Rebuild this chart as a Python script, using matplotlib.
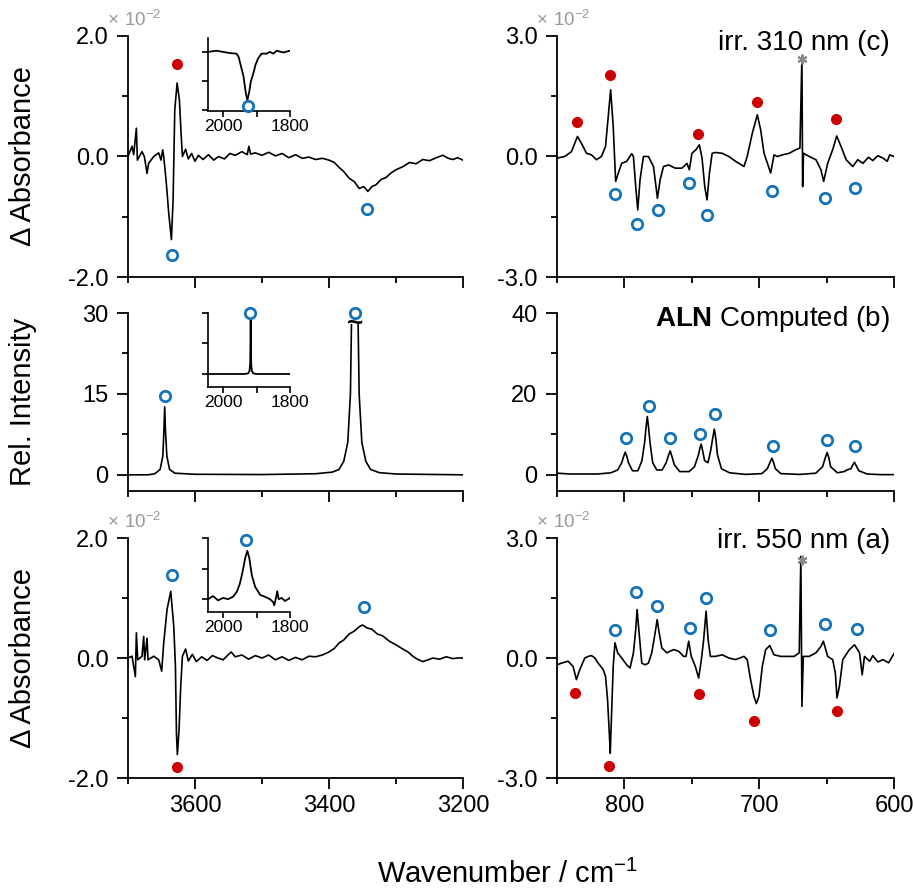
import matplotlib

matplotlib.use("Agg")

import matplotlib.pyplot as plt
import numpy as np
from matplotlib.ticker import FixedLocator, FormatStrFormatter

plt.rcParams["font.family"] = ["Liberation Sans", "DejaVu Sans"]
plt.rcParams["mathtext.fontset"] = "custom"
plt.rcParams["mathtext.rm"] = "Liberation Sans"
plt.rcParams["mathtext.bf"] = "Liberation Sans:bold"
plt.rcParams["axes.unicode_minus"] = False

RED = "#cc0000"
BLUE = "#1473b9"

# ---------------- data (absorbance in units of 1e-2) ----------------
# (c) irr. 310 nm, OH-stretch region
c_oh_wn = [3700.0, 3694.0, 3691.5, 3687.5, 3686.0, 3679.1, 3675.6, 3671.6, 3669.1, 3661.6,
           3654.2, 3650.7, 3648.2, 3646.7, 3643.2, 3639.2, 3635.2, 3632.7, 3630.2, 3626.7,
           3623.3, 3620.8, 3618.8, 3614, 3610, 3605, 3600, 3595, 3588, 3580, 3572, 3565,
           3556, 3548, 3540, 3530, 3522, 3519.6, 3517, 3510, 3500, 3490, 3480, 3470, 3460,
           3450, 3440, 3430, 3420, 3410, 3400, 3392, 3385, 3378, 3370, 3362, 3355, 3348,
           3342, 3336, 3330, 3322, 3315, 3307, 3300, 3290, 3280, 3270, 3260, 3250, 3240,
           3230, 3222, 3215, 3208, 3200]
c_oh_abs = [0.00, 0.17, 0.03, 0.47, -0.06, 0.08, 0.00, -0.28, -0.11, 0.00,
            0.06, -0.06, 0.11, 0.00, -0.39, -0.94, -1.38, -0.72, 0.77, 1.22,
            0.94, 0.39, 0.00, 0.12, -0.04, 0.05, -0.08, 0.02, -0.05, 0.03, -0.06, 0.00,
            -0.04, 0.05, 0.02, 0.08, 0.03, 0.17, 0.04, 0.06, 0.02, 0.07, 0.01, 0.05, -0.02,
            0.03, -0.03, -0.01, -0.05, -0.03, -0.06, -0.10, -0.18, -0.25, -0.36, -0.42, -0.53, -0.50,
            -0.58, -0.50, -0.47, -0.38, -0.35, -0.27, -0.22, -0.17, -0.10, -0.12, -0.05, -0.07, -0.02,
            0.02, -0.03, -0.05, -0.02, -0.06]
c_ins_wn = [2045, 2020, 2000, 1980, 1960, 1954, 1949, 1939, 1932, 1927.5, 1921.5, 1917,
            1909, 1903, 1895, 1885, 1870, 1860, 1850, 1840, 1820, 1800]
c_ins_abs = [0.0, 0.02, 0.0, -0.02, -0.03, -0.08, -0.19, -0.42, -0.71, -0.84, -0.68, -0.51,
             -0.36, -0.22, -0.11, -0.03, -0.03, 0.0, -0.03, 0.02, -0.01, 0.02]
c_fp_wn = [850.0, 844.3, 839.3, 834.8, 831.9, 828.1, 824.4, 820.7, 817.0, 814.0, 810.2, 808.3,
           806.5, 804.5, 802.0, 798.3, 794.6, 793.3, 791.6, 790.1, 788.4, 785.9, 782.2, 778.4,
           775.5, 773.5, 771.0, 767.2, 762.3, 757.3, 753.6, 751.8, 749.9, 746.9, 744.4, 742.4,
           740.4, 738.7, 736.9, 734.9, 732.5, 727.5, 722.5, 717.5, 711.3, 708.9, 705.1, 701.4,
           698.9, 696.4, 693.9, 691.5, 689.0, 686.5, 682.8, 677.8, 672.8, 669.8, 668.3, 667.8,
           667.1, 662.9, 657.9, 654.2, 652.2, 649.2, 645.5, 642.5, 639.3, 635.5, 630.6, 626.9,
           623.1, 619.0, 615.7, 612.0, 608.2, 605.0, 603.2, 600.0]
c_fp_abs = [-0.04, 0.00, 0.12, 0.50, 0.33, 0.08, 0.04, -0.08, 0.00, 0.25, 1.66, 0.75,
            -0.62, -0.41, -0.17, -0.12, 0.07, 0.00, -0.75, -1.33, -0.58, 0.00, 0.00, -0.25,
            -1.04, -0.58, -0.25, -0.21, -0.29, -0.29, -0.17, -0.33, 0.08, 0.17, 0.29, -0.04,
            -0.75, -1.08, -0.41, 0.08, 0.10, 0.08, 0.00, -0.12, -0.25, 0.00, 0.58, 1.04,
            0.66, 0.08, -0.17, -0.41, 0.04, 0.00, 0.04, 0.08, 0.17, 0.21, 2.49, -0.75,
            0.08, 0.00, -0.08, -0.33, -0.62, -0.17, 0.17, 0.51, 0.25, -0.08, -0.25, -0.08,
            -0.17, -0.02, -0.10, 0.02, -0.04, -0.12, 0.04, 0.00]

# (b) ALN computed
b_oh_wn = [3700, 3670, 3660, 3652, 3648, 3646.5, 3645.2, 3644, 3642, 3638, 3630, 3600, 3500,
           3420, 3395, 3385, 3378, 3372, 3368, 3366.5, np.nan, 3356.5, 3355, 3351, 3345, 3338,
           3325, 3300, 3200]
b_oh_int = [0.0, 0.0, 0.2, 1.0, 3.5, 8.0, 12.6, 8.0, 3.5, 1.0, 0.3, 0.1, 0.05,
            0.2, 0.5, 1.0, 2.5, 6.0, 15.0, 27.8, np.nan, 27.8, 15.0, 6.0, 2.5, 1.0,
            0.4, 0.15, 0.0]
b_ins_wn = [2045, 1935, 1925, 1921, 1919, 1918.5, 1917.5, 1916.5, 1916, 1914, 1910, 1900, 1800]
b_ins_int = [0.0, 0.0, 0.3, 1.5, 5.0, 10.5, 26.5, 10.5, 5.0, 1.5, 0.3, 0.0, 0.0]
b_fp_wn = [850, 840, 820, 810, 805, 802, 800.5, 799.4, 798.2, 797, 794, 790, 787, 785, 784,
           783, 782, 781, 779, 776, 772, 769, 767.2, 766, 764.8, 763, 759, 752, 748, 745, 744,
           743, 742, 740.5, 738, 736, 734.5, 733.3, 732.1, 731, 728, 722, 710, 698, 694, 691.8,
           690.6, 689.4, 688, 684, 670, 658, 653, 650.8, 649.6, 648.4, 647, 642, 637, 635, 632,
           630.5, 629.3, 628.1, 626, 620, 610, 600]
b_fp_int = [0.4, 0.2, 0.2, 0.5, 1.2, 3.0, 4.6, 5.6, 4.6, 3.0, 1.0, 1.0, 3.5, 8.0, 11.5,
            14.4, 11.5, 8.0, 3.0, 1.2, 1.2, 3.0, 4.9, 5.9, 4.6, 2.5, 0.8, 0.8, 2.0, 5.0, 6.6,
            7.6, 6.0, 3.5, 3.0, 6.0, 9.0, 11.3, 8.8, 5.0, 1.5, 0.5, 0.1, 0.3, 1.5, 3.2,
            4.1, 3.1, 1.5, 0.3, 0.1, 0.4, 2.0, 4.4, 5.5, 4.3, 2.0, 0.5, 0.8, 1.2, 1.5,
            2.5, 3.1, 2.3, 1.0, 0.2, 0.05, 0.05]

# (a) irr. 550 nm
a_oh_wn = [3700.0, 3694.0, 3689.0, 3687.5, 3685.5, 3679.1, 3676.6, 3675.1, 3671.6, 3670.1,
           3661.6, 3654.2, 3649.7, 3646.7, 3641.7, 3636.2, 3631.7, 3629.2, 3627.7, 3626.3,
           3623.8, 3621.3, 3618.8, 3614, 3610, 3604, 3598, 3590, 3582, 3574, 3566, 3558,
           3550, 3546, 3540, 3530, 3520, 3510, 3500, 3490, 3480, 3470, 3460, 3450, 3440,
           3430, 3420, 3410, 3400, 3392, 3385, 3378, 3370, 3362, 3355, 3350, 3343, 3336,
           3328, 3320, 3310, 3300, 3290, 3282, 3275, 3268, 3260, 3252, 3245, 3235, 3225,
           3215, 3208, 3200]
a_oh_abs = [0.00, 0.03, -0.31, 0.42, -0.03, 0.03, 0.36, -0.03, 0.33, -0.03,
            0.03, -0.03, -0.22, 0.25, 0.81, 1.11, 0.53, -0.14, -1.25, -1.61,
            -1.19, -0.47, 0.03, 0.15, -0.05, 0.06, -0.06, 0.02, -0.04, 0.04, 0.00, -0.03,
            0.06, 0.10, 0.02, 0.05, -0.02, 0.04, 0.00, 0.05, -0.03, 0.02, -0.04, 0.01, -0.03,
            0.03, 0.02, 0.05, 0.10, 0.16, 0.25, 0.30, 0.40, 0.45, 0.52, 0.55, 0.50, 0.48,
            0.40, 0.37, 0.28, 0.22, 0.15, 0.10, 0.03, -0.02, -0.06, -0.03, 0.00, -0.02, 0.02,
            -0.01, 0.00, 0.00]
a_ins_wn = [2045, 2030, 2015, 2000, 1985, 1970, 1959, 1950, 1944, 1938, 1934, 1927.5, 1924,
            1921.5, 1914, 1904, 1889, 1875, 1860, 1850, 1847, 1842, 1838, 1834, 1825, 1815, 1800]
a_ins_abs = [0.0, 0.05, -0.02, 0.02, 0.0, 0.04, 0.12, 0.25, 0.39, 0.55, 0.67, 0.79, 0.72,
             0.67, 0.39, 0.20, 0.07, 0.04, 0.0, -0.05, -0.10, 0.02, 0.13, 0.0, 0.02, -0.03, 0.02]
a_fp_wn = [850.0, 846.8, 841.8, 838.1, 835.6, 833.1, 829.4, 826.9, 824.4, 821.9, 819.4, 815.7,
           814.0, 812.5, 811.2, 810.5, 809.5, 808.3, 807.0, 805.0, 802.0, 798.3, 795.8, 793.3,
           791.6, 790.6, 789.1, 787.1, 784.6, 782.2, 779.7, 777.2, 775.7, 774.2, 772.2, 768.5,
           763.5, 759.8, 756.1, 754.3, 752.3, 750.4, 747.4, 744.9, 742.9, 741.2, 739.4, 737.9,
           736.2, 732.5, 727.5, 722.5, 717.5, 711.3, 708.9, 706.4, 703.9, 702.1, 700.2, 697.7,
           695.2, 692.2, 689.0, 684.0, 679.0, 674.1, 670.3, 669.1, 668.3, 667.3, 662.9, 657.9,
           654.2, 652.4, 649.2, 645.5, 643.5, 642.3, 640.5, 638.0, 633.1, 629.3, 625.6, 623.6,
           621.9, 618.0, 615.7, 612.0, 608.2, 604.0, 600.0]
a_fp_abs = [-0.17, -0.13, -0.08, -0.21, -0.54, -0.29, 0.00, 0.04, 0.06, 0.00, -0.13, -0.29,
            -0.46, -1.04, -1.88, -2.38, -1.38, -0.21, 0.38, 0.13, 0.00, -0.17, -0.25, 0.13,
            0.71, 1.21, 0.63, -0.13, -0.17, -0.13, 0.13, 0.63, 0.96, 0.63, 0.25, 0.13,
            0.21, 0.17, 0.04, 0.04, 0.42, 0.04, -0.21, -0.50, -0.04, 0.46, 1.17, 0.46,
            0.04, 0.04, 0.08, 0.00, -0.04, 0.04, -0.04, -0.54, -0.96, -1.14, -0.96, -0.21,
            0.21, 0.31, 0.08, 0.04, 0.04, 0.04, 0.13, 2.54, -1.21, 0.04, 0.04, 0.13,
            0.29, 0.42, 0.04, -0.04, -0.38, -1.00, -0.71, -0.04, 0.21, 0.33, 0.13, -0.42,
            0.04, -0.08, 0.06, -0.10, -0.04, -0.12, 0.11]

# band markers: filled red / open blue circles
c_oh_red = ([3626.7], [1.53])
c_oh_blue = ([3634.7, 3343.0], [-1.64, -0.87])
c_ins_blue = ([1925], [-0.94])
c_fp_red = ([834.8, 810.7, 745.1, 701.6, 642.8], [0.85, 2.02, 0.57, 1.35, 0.93])
c_fp_blue = ([807.3, 790.4, 775.2, 752.3, 738.7, 690.5, 651.2, 628.6],
             [-0.94, -1.67, -1.33, -0.65, -1.46, -0.85, -1.03, -0.78])
b_oh_blue = ([3645.2, 3361.2], [14.6, 30.0])
b_ins_blue = ([1918.5], [30.2])
b_fp_blue = ([799.1, 782.0, 766.1, 743.7, 733.0, 690.1, 649.6, 629.0],
             [9.2, 17.1, 9.2, 10.1, 15.0, 7.2, 8.5, 7.2])
a_oh_red = ([3626.7], [-1.82])
a_oh_blue = ([3634.2, 3347.7], [1.39, 0.85])
a_ins_blue = ([1931], [0.97])
a_fp_red = ([836.3, 811.7, 744.6, 703.9, 642.3], [-0.88, -2.71, -0.91, -1.58, -1.33])
a_fp_blue = ([806.8, 791.4, 775.7, 751.6, 739.4, 692.0, 651.2, 627.8],
             [0.69, 1.64, 1.31, 0.76, 1.49, 0.69, 0.84, 0.72])
star_c = (668.3, 2.42)
star_a = (668.6, 2.46)

# ---------------- figure ----------------
fig = plt.figure(figsize=(9.13, 8.88), dpi=100)

W, H = 913.0, 888.0
left_x, left_w = 128 / W, 335 / W
right_x, right_w = 557 / W, 337 / W
rows = [(1 - 277 / H, 241 / H), (1 - 491 / H, 178 / H), (1 - 778 / H, 240 / H)]


def style_main(ax, xlim, xmaj, xmin, ylim, ymaj, ymin, fmt, labels):
    ax.set_xlim(*xlim)
    ax.set_ylim(*ylim)
    for s in ("top", "right"):
        ax.spines[s].set_visible(False)
    for s in ("left", "bottom"):
        ax.spines[s].set_linewidth(1.3)
    ax.xaxis.set_major_locator(FixedLocator(xmaj))
    ax.xaxis.set_minor_locator(FixedLocator(xmin))
    ax.yaxis.set_major_locator(FixedLocator(ymaj))
    ax.yaxis.set_minor_locator(FixedLocator(ymin))
    ax.yaxis.set_major_formatter(FormatStrFormatter(fmt))
    ax.tick_params(which="major", direction="out", length=8, width=1.3, labelsize=17)
    ax.tick_params(which="minor", direction="out", length=4.5, width=1.3)
    ax.tick_params(axis="y", which="major", pad=6)
    ax.tick_params(axis="x", which="major", pad=4.5, labelbottom=labels)


def style_inset(ax, ylim, yticks):
    ax.set_xlim(2045, 1800)
    ax.set_ylim(*ylim)
    for s in ("top", "right"):
        ax.spines[s].set_visible(False)
    for s in ("left", "bottom"):
        ax.spines[s].set_linewidth(1.2)
    ax.patch.set_alpha(0)
    ax.xaxis.set_major_locator(FixedLocator([2000, 1800]))
    ax.xaxis.set_minor_locator(FixedLocator([1900]))
    ax.yaxis.set_major_locator(FixedLocator(yticks))
    ax.tick_params(which="both", direction="out", length=4, width=1.2)
    ax.tick_params(axis="x", labelsize=12.5, pad=2)
    ax.tick_params(axis="y", labelleft=False)


def marks(ax, red=None, blue=None):
    if red is not None:
        ax.plot(*red, "o", ms=8, color=RED, mec="none", clip_on=False, zorder=5)
    if blue is not None:
        ax.plot(*blue, "o", ms=7.5, mfc="none", mec=BLUE, mew=2.0, clip_on=False, zorder=5)


def offset_label(ax):
    ax.text(-0.062, 1.043, r"$\times\ 10^{-2}$", transform=ax.transAxes, fontsize=13.5,
            color="#999999", ha="left", va="baseline")


ins_x, ins_w = 208 / W, 82 / W
oh_kw = dict(xlim=(3700, 3200), xmaj=[3600, 3400, 3200], xmin=[3700, 3500, 3300])
fp_kw = dict(xlim=(850, 600), xmaj=[800, 700, 600], xmin=[850, 750, 650])
LW = 1.2

# top row: (c) irr. 310 nm
ax = fig.add_axes([left_x, rows[0][0], left_w, rows[0][1]])
ax.plot(c_oh_wn, c_oh_abs, color="k", lw=LW)
marks(ax, c_oh_red, c_oh_blue)
style_main(ax, ylim=(-2, 2), ymaj=[-2, 0, 2], ymin=[-1, 1], fmt="%.1f", labels=False, **oh_kw)
ax.set_ylabel("\u0394 Absorbance", fontsize=21)
ax.yaxis.set_label_coords(-0.272, 0.5)
offset_label(ax)

ax = fig.add_axes([ins_x, 1 - 111 / H, ins_w, 73 / H])
ax.plot(c_ins_wn, c_ins_abs, color="k", lw=1.3)
marks(ax, blue=c_ins_blue)
style_inset(ax, (-1.02, 0.24), [-1.0, -0.5, 0.0])

ax = fig.add_axes([right_x, rows[0][0], right_w, rows[0][1]])
ax.plot(c_fp_wn, c_fp_abs, color="k", lw=LW)
marks(ax, c_fp_red, c_fp_blue)
ax.plot(*star_c, marker=(6, 2, 0), ms=7, mew=1.5, color="#888888", zorder=6)
style_main(ax, ylim=(-3, 3), ymaj=[-3, 0, 3], ymin=[-1.5, 1.5], fmt="%.1f", labels=False, **fp_kw)
ax.text(0.988, 0.942, "irr. 310 nm (c)", transform=ax.transAxes, fontsize=20,
        ha="right", va="baseline")
offset_label(ax)

# middle row: (b) ALN computed
ax = fig.add_axes([left_x, rows[1][0], left_w, rows[1][1]])
ax.plot(b_oh_wn, b_oh_int, color="k", lw=LW)
ax.text(3361.5, 28.0, "~", fontsize=20, fontweight="bold", ha="center", va="center")
marks(ax, blue=b_oh_blue)
style_main(ax, ylim=(-3, 30), ymaj=[0, 15, 30], ymin=[7.5, 22.5], fmt="%d", labels=False, **oh_kw)
ax.set_ylabel("Rel. Intensity", fontsize=21)
ax.yaxis.set_label_coords(-0.272, 0.5)

ax = fig.add_axes([ins_x, 1 - 387 / H, ins_w, 74 / H])
ax.plot(b_ins_wn, b_ins_int, color="k", lw=1.3)
marks(ax, blue=b_ins_blue)
style_inset(ax, (-6.4, 30), [0, 15, 30])

ax = fig.add_axes([right_x, rows[1][0], right_w, rows[1][1]])
ax.plot(b_fp_wn, b_fp_int, color="k", lw=LW)
marks(ax, blue=b_fp_blue)
style_main(ax, ylim=(-4, 40), ymaj=[0, 20, 40], ymin=[10, 30], fmt="%d", labels=False, **fp_kw)
ax.text(0.988, 0.927, r"$\mathbf{ALN}$ Computed (b)", transform=ax.transAxes, fontsize=20,
        ha="right", va="baseline")

# bottom row: (a) irr. 550 nm
ax = fig.add_axes([left_x, rows[2][0], left_w, rows[2][1]])
ax.plot(a_oh_wn, a_oh_abs, color="k", lw=LW)
marks(ax, a_oh_red, a_oh_blue)
style_main(ax, ylim=(-2, 2), ymaj=[-2, 0, 2], ymin=[-1, 1], fmt="%.1f", labels=True, **oh_kw)
ax.set_ylabel("\u0394 Absorbance", fontsize=21)
ax.yaxis.set_label_coords(-0.272, 0.5)
offset_label(ax)

ax = fig.add_axes([ins_x, 1 - 612 / H, ins_w, 74 / H])
ax.plot(a_ins_wn, a_ins_abs, color="k", lw=1.3)
marks(ax, blue=a_ins_blue)
style_inset(ax, (-0.21, 1.0), [0, 0.5, 1.0])

ax = fig.add_axes([right_x, rows[2][0], right_w, rows[2][1]])
ax.plot(a_fp_wn, a_fp_abs, color="k", lw=LW)
marks(ax, a_fp_red, a_fp_blue)
ax.plot(*star_a, marker=(6, 2, 0), ms=7, mew=1.5, color="#888888", zorder=6)
style_main(ax, ylim=(-3, 3), ymaj=[-3, 0, 3], ymin=[-1.5, 1.5], fmt="%.1f", labels=True, **fp_kw)
ax.text(0.988, 0.958, "irr. 550 nm (a)", transform=ax.transAxes, fontsize=20,
        ha="right", va="baseline")
offset_label(ax)

fig.text(507 / W, 1 - 883 / H, r"Wavenumber / cm$^{-1}$", fontsize=21, ha="center",
         va="baseline")

fig.savefig("out.png", dpi=100, facecolor="white")
